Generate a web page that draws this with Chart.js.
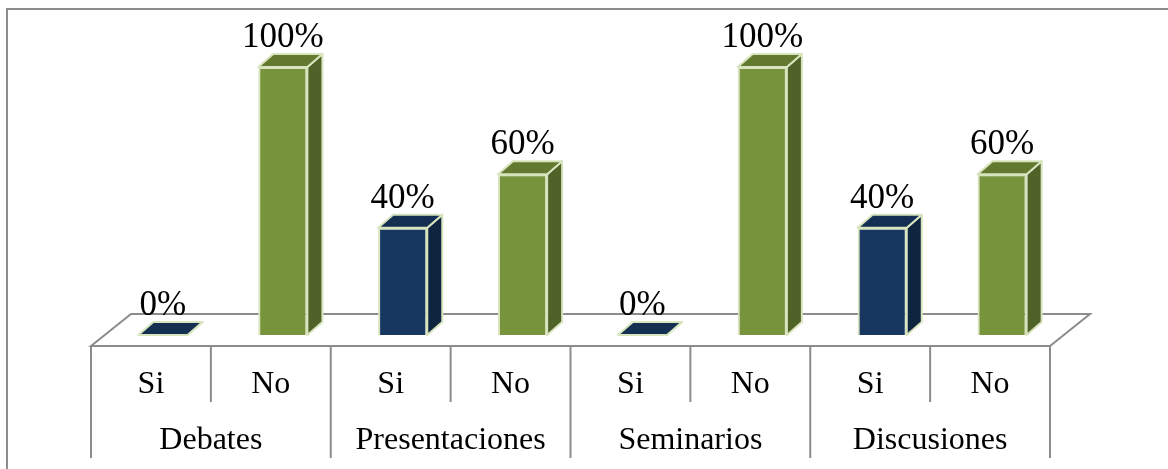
<!DOCTYPE html>
<html>
<head>
<meta charset="utf-8">
<script src="https://cdn.jsdelivr.net/npm/chart.js@4"></script>
<style>
  body { margin: 0; background: #fff; }
  #wrap { position: relative; width: 1168px; height: 469px; }
</style>
</head>
<body>
<div id="wrap"><canvas id="myChart"></canvas></div>
<script>
// data
var categories = ['Si', 'No', 'Si', 'No', 'Si', 'No', 'Si', 'No'];
var groups = ['Debates', 'Presentaciones', 'Seminarios', 'Discusiones'];
var values = [0, 100, 40, 60, 0, 100, 40, 60];
var valueLabels = ['0%', '100%', '40%', '60%', '0%', '100%', '40%', '60%'];

// colours for Si / No
var front = { Si: '#17375E', No: '#77933C' };
var side  = { Si: '#0F243E', No: '#4F6228' };
var top_  = { Si: '#142F51', No: '#62792F' };
var edge = '#D7E4BD';
var grey = '#8C8C8C';

// 3d offsets
var DX = 15, DY = 13;          // bar depth
var FDX = 40, FDY = 32;        // floor depth
var OX = 12, OY = 11;          // bar position inside the floor

var serif = '"Liberation Serif", "Times New Roman", serif';

var bar3d = {
    id: 'bar3d',
    beforeDraw: function(chart)
    {
        var ctx = chart.ctx;
        ctx.save();
        ctx.strokeStyle = grey;
        ctx.lineWidth = 2;
        ctx.beginPath();
        ctx.moveTo(7, chart.height);
        ctx.lineTo(7, 9);
        ctx.lineTo(chart.width, 9);
        ctx.stroke();
        ctx.restore();
    },
    beforeDatasetsDraw: function(chart)
    {
        var ctx = chart.ctx, x = chart.scales.x, y = chart.scales.y;
        var half = (x.getPixelForValue(1) - x.getPixelForValue(0)) / 2;
        var n = categories.length;
        var left = x.getPixelForValue(0) - half - OX;
        var right = x.getPixelForValue(n - 1) + half - OX;
        var fy = y.getPixelForValue(0) + OY;

        ctx.save();
        ctx.strokeStyle = grey;
        ctx.lineWidth = 2;
        // floor
        ctx.beginPath();
        ctx.moveTo(left, fy);
        ctx.lineTo(right, fy);
        ctx.lineTo(right + FDX, fy - FDY);
        ctx.lineTo(left + FDX, fy - FDY);
        ctx.closePath();
        ctx.stroke();
        // table lines
        for (var i = 0; i <= n; i++)
        {
            var bx = (i < n ? x.getPixelForValue(i) - half : x.getPixelForValue(n - 1) + half) - OX;
            ctx.beginPath();
            ctx.moveTo(bx, fy);
            ctx.lineTo(bx, fy + (i % 2 == 0 ? 112 : 56));
            ctx.stroke();
        }
        // labels
        ctx.fillStyle = '#000';
        ctx.textAlign = 'center';
        ctx.textBaseline = 'alphabetic';
        ctx.font = '32px ' + serif;
        for (var i = 0; i < n; i++)
        {
            ctx.fillText(categories[i], x.getPixelForValue(i) - OX, fy + 47);
        }
        for (var g = 0; g < groups.length; g++)
        {
            var cx = (x.getPixelForValue(2 * g) + x.getPixelForValue(2 * g + 1)) / 2 - OX;
            ctx.fillText(groups[g], cx, fy + 103);
        }
        ctx.restore();
    },
    afterDatasetsDraw: function(chart)
    {
        var ctx = chart.ctx;
        var meta = chart.getDatasetMeta(0);
        ctx.save();
        ctx.strokeStyle = edge;
        ctx.lineWidth = 2;
        ctx.lineJoin = 'round';
        meta.data.forEach(function(el, i)
        {
            var p = el.getProps(['x', 'y', 'base', 'width'], true);
            var k = categories[i];
            var l = p.x - p.width / 2, r = p.x + p.width / 2;
            // side face
            ctx.beginPath();
            ctx.moveTo(r, p.y);
            ctx.lineTo(r + DX, p.y - DY);
            ctx.lineTo(r + DX, p.base - DY);
            ctx.lineTo(r, p.base);
            ctx.closePath();
            ctx.fillStyle = side[k];
            ctx.fill();
            ctx.stroke();
            // top face
            ctx.beginPath();
            ctx.moveTo(l, p.y);
            ctx.lineTo(l + DX, p.y - DY);
            ctx.lineTo(r + DX, p.y - DY);
            ctx.lineTo(r, p.y);
            ctx.closePath();
            ctx.fillStyle = top_[k];
            ctx.fill();
            ctx.stroke();
            // value label
            ctx.fillStyle = '#000';
            ctx.font = '35px ' + serif;
            ctx.textAlign = 'center';
            ctx.textBaseline = 'alphabetic';
            ctx.fillText(valueLabels[i], p.x, p.y - DY - 7);
        });
        ctx.restore();
    }
};

var canvas = document.getElementById('myChart');
var myChart = new Chart(canvas.getContext('2d'),
{
    type: 'bar',
    data:
    {
        labels: categories,
        datasets:
        [{
            data: values,
            backgroundColor: categories.map(function(c) { return front[c]; }),
            borderColor: edge,
            borderWidth: 2,
            categoryPercentage: 1,
            barPercentage: 0.41,
            clip: false
        }]
    },
    options:
    {
        responsive: true,
        maintainAspectRatio: false,
        animation: false,
        layout: { padding: { left: 103, right: 106, top: 67, bottom: 134 } },
        scales:
        {
            x: { display: false },
            y: { display: false, min: 0, max: 100 }
        },
        plugins:
        {
            legend: { display: false },
            tooltip: { enabled: false }
        }
    },
    plugins: [bar3d]
});
</script>
</body>
</html>
